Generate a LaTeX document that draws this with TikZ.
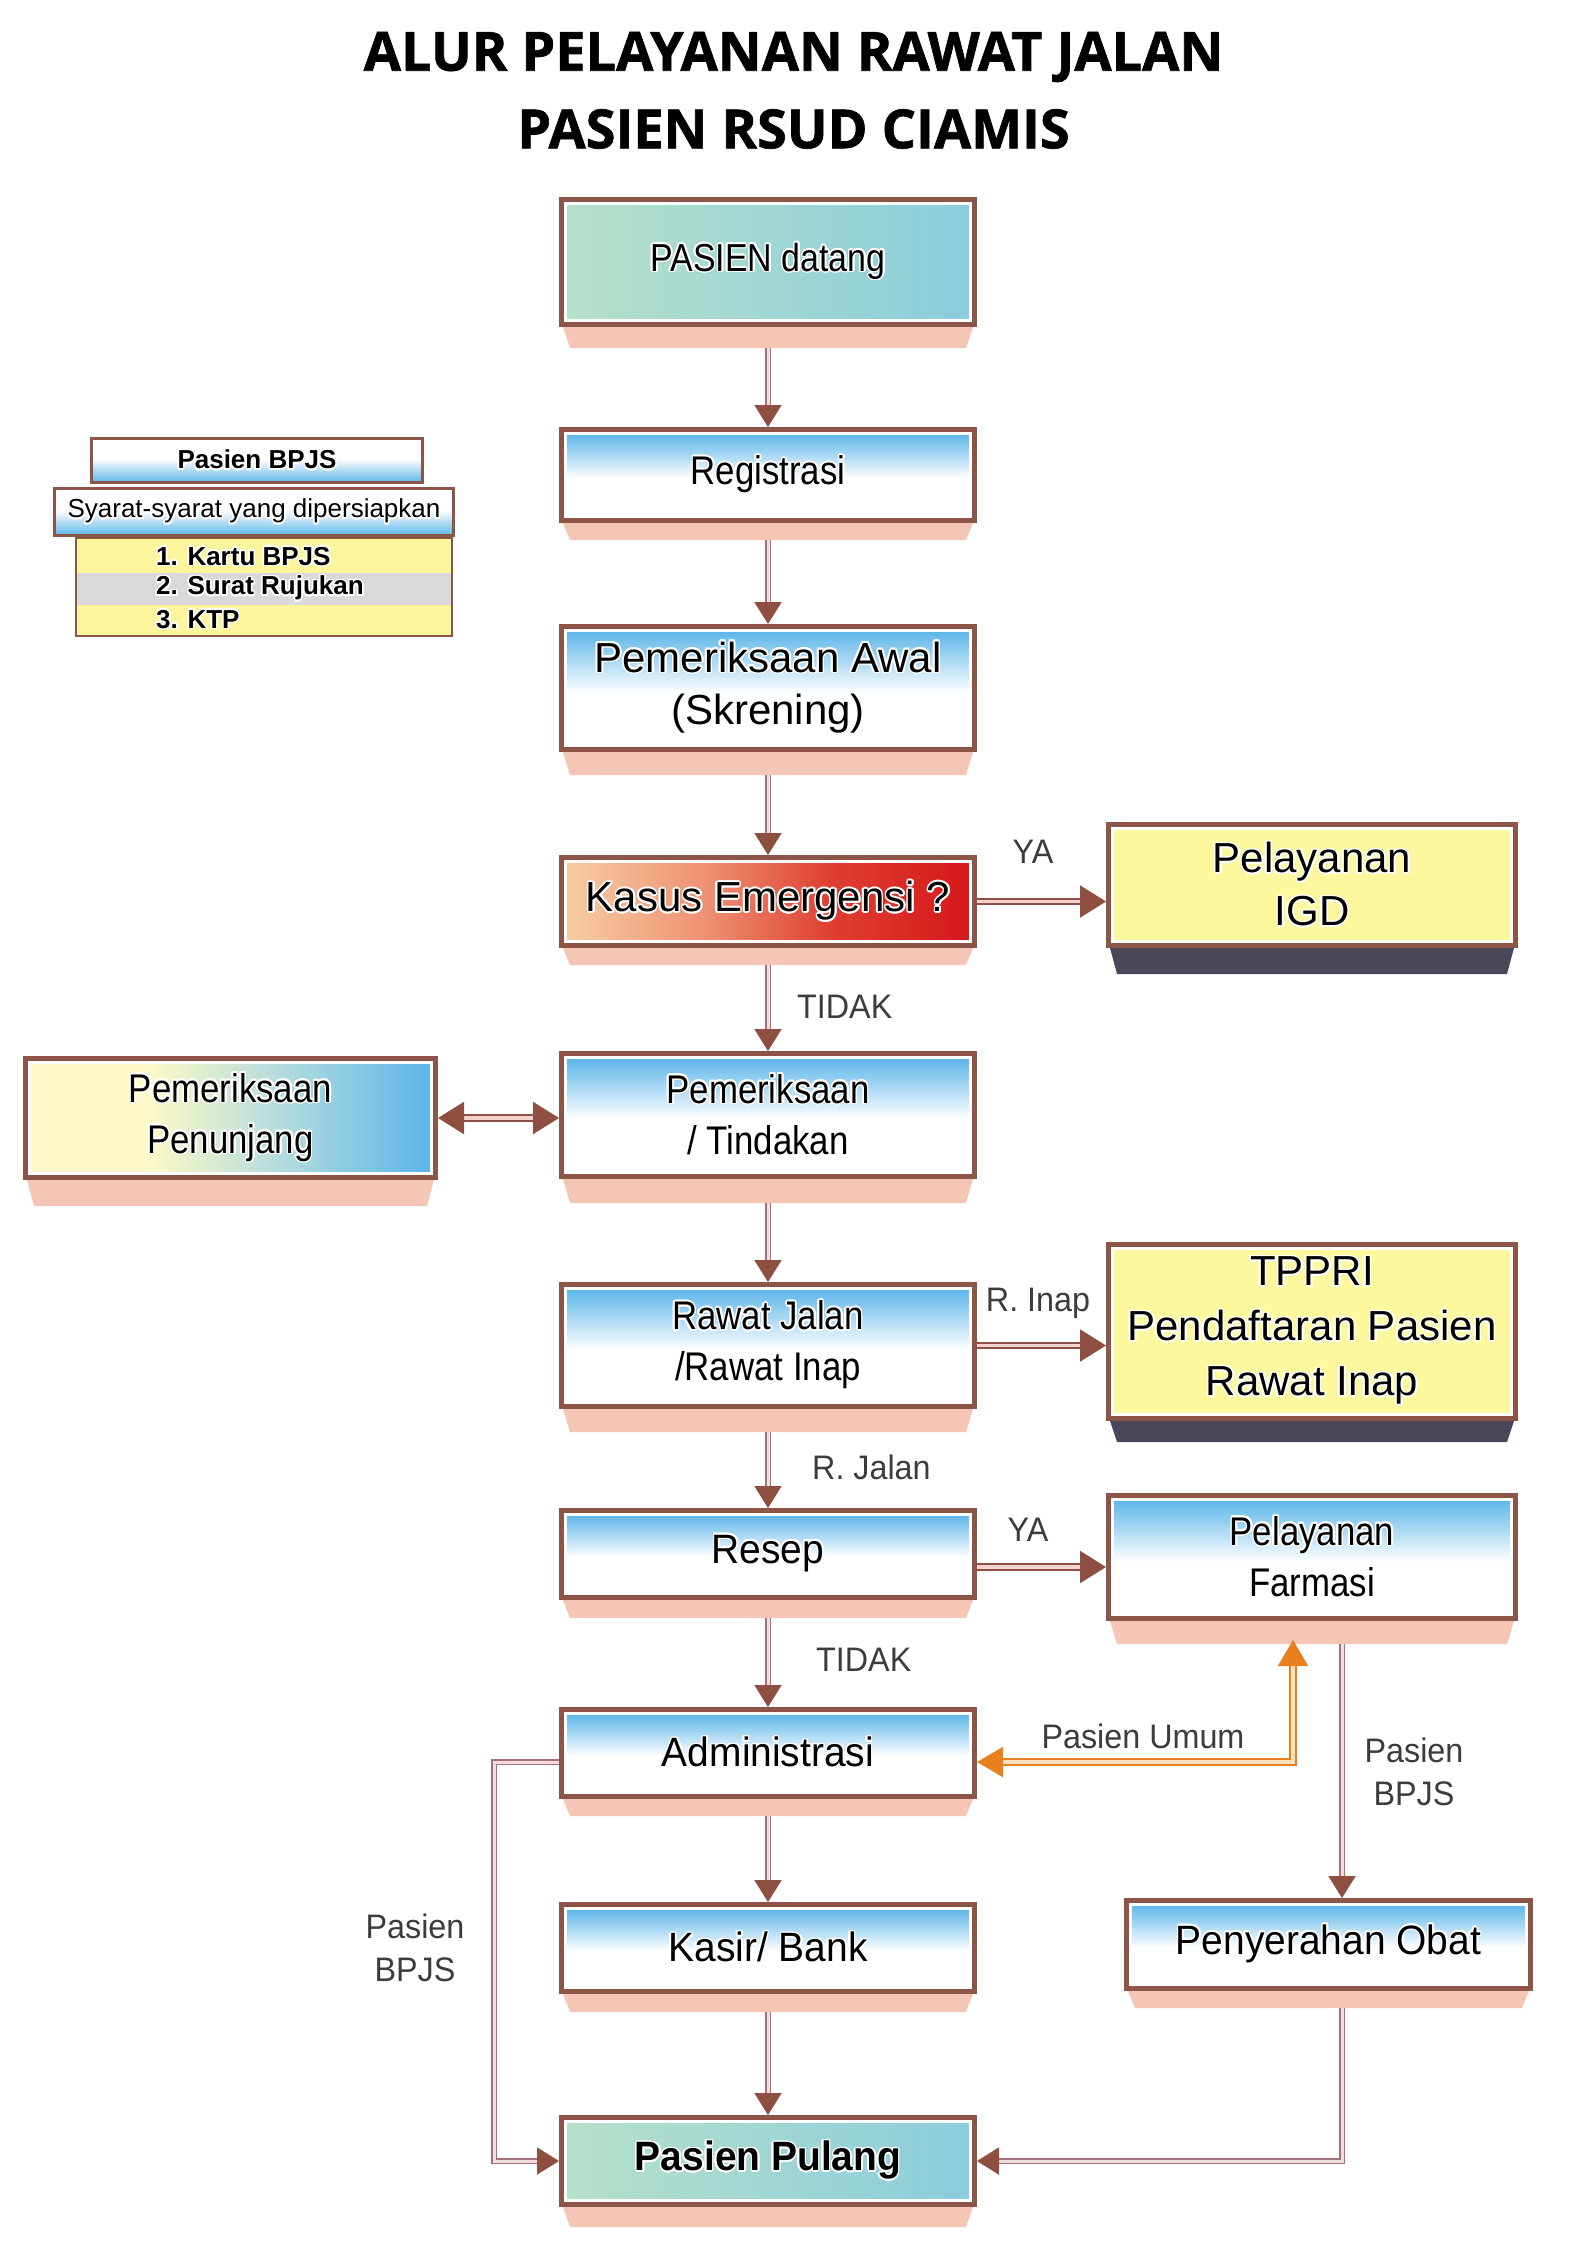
\documentclass[tikz,border=0pt]{standalone}
\usepackage{fontspec}
\usepackage[copies]{contour}
\contourlength{1.6pt}
\setmainfont{Liberation Sans}
\newfontfamily\fA[FakeStretch=0.87]{Liberation Sans}
\newfontfamily\fB[FakeStretch=0.95]{Liberation Sans}
\newfontfamily\fC[FakeStretch=1.0]{Liberation Sans}
\newfontfamily\titlefont[BoldFeatures={FakeBold=1.2}]{Open Sans}
\newcommand\hl[1]{\contour{white}{#1}}
\usetikzlibrary{arrows.meta,calc}
\definecolor{boxbrown}{HTML}{8C5548}
\definecolor{shadowpink}{HTML}{F5C6B6}
\definecolor{shadowdark}{HTML}{4A4858}
\definecolor{sky}{HTML}{5BB5E9}
\definecolor{mint}{HTML}{B6E0C9}
\definecolor{aqua}{HTML}{8BCDDD}
\definecolor{ylw}{HTML}{FDF89D}
\definecolor{peach}{HTML}{F7CDA2}
\definecolor{emidA}{HTML}{EE9274}
\definecolor{emidB}{HTML}{DF3E30}
\definecolor{redc}{HTML}{D5181B}
\definecolor{pyel}{HTML}{FDF9C8}
\definecolor{pmid}{HTML}{B4DCDD}
\definecolor{arrowbrown}{HTML}{8E4E40}
\definecolor{connedge}{HTML}{A5707A}
\definecolor{conninner}{HTML}{F3DCDC}
\definecolor{hedge}{HTML}{8E5048}
\definecolor{hinner}{HTML}{F5D2CC}
\definecolor{orng}{HTML}{E8801F}
\definecolor{oinner}{HTML}{FCE2BE}
\definecolor{labelgray}{HTML}{3C3C3C}
\definecolor{graybar}{HTML}{D9D9D9}
\definecolor{lgylw}{HTML}{FDF59B}
\pgfdeclareverticalshading{bluetop}{100bp}{color(0bp)=(white); color(25bp)=(white); color(48bp)=(white); color(75bp)=(sky); color(100bp)=(sky)}
\pgfdeclareverticalshading{bluebottom}{100bp}{color(0bp)=(sky); color(25bp)=(sky); color(52bp)=(white); color(75bp)=(white); color(100bp)=(white)}
\pgfdeclarehorizontalshading{emerg}{100bp}{color(0bp)=(peach); color(25bp)=(peach); color(42bp)=(emidA); color(58bp)=(emidB); color(75bp)=(redc); color(100bp)=(redc)}
\pgfdeclarehorizontalshading{penunj}{100bp}{color(0bp)=(pyel); color(25bp)=(pyel); color(40bp)=(pyel); color(56bp)=(pmid); color(75bp)=(sky); color(100bp)=(sky)}
\newcommand\boxshadow[3]{\fill[#2] ($(#1.south west)+(4,0)$) -- ($(#1.south east)+(-4,0)$) -- ($(#1.south east)+(-11,#3)$) -- ($(#1.south west)+(11,#3)$) -- cycle;}
\begin{document}
\begin{tikzpicture}[x=1pt,y=-1pt,
  flow/.style={rectangle, inner sep=0pt, outer sep=6.5pt, draw=white, line width=3pt,
    preaction={draw=boxbrown, line width=13pt}, text=black, align=center},
  mainw/.style={minimum width=405pt},
  sidew/.style={minimum width=399pt},
  blue/.style={shade, shading=bluetop},
  teal/.style={left color=mint, right color=aqua},
  fa/.style={font=\fA\fontsize{40}{51}\selectfont},
  fb/.style={font=\fB\fontsize{41}{51}\selectfont},
  fc/.style={font=\fC\fontsize{42}{52}\selectfont},
  lbl/.style={text=labelgray, font=\fB\fontsize{34}{43}\selectfont, inner sep=0pt, align=center},
  vconn/.style={draw=connedge, line width=1.9pt, double=conninner, double distance=3pt,
    -{Triangle[length=22pt,width=27pt,color=arrowbrown,fill=arrowbrown]}},
  hconn/.style={draw=hedge, line width=2pt, double=hinner, double distance=3.5pt,
    -{Triangle[length=26pt,width=32pt,color=arrowbrown,fill=arrowbrown]}},
  oconn/.style={draw=orng, line width=2pt, double=oinner, double distance=3.5pt,
    {Triangle[length=26pt,width=30pt,color=orng,fill=orng]}-{Triangle[length=26pt,width=30pt,color=orng,fill=orng]}},
  lgtext/.style={font=\fontsize{26}{30}\selectfont, inner sep=0pt}
]
\useasboundingbox (0,0) rectangle (1587,2245);
\fill[white] (0,0) rectangle (1587,2245);

% title
\node[font=\titlefont\bfseries\fontsize{54}{60}\selectfont] (t1) at (793.5,57) {ALUR PELAYANAN RAWAT JALAN};
\node[font=\titlefont\bfseries\fontsize{54}{60}\selectfont] (t2) at (793.5,129) {PASIEN RSUD CIAMIS};

% legend
\node[draw=boxbrown, line width=2pt, fill=lgylw, minimum width=376pt, minimum height=98pt, inner sep=0pt] (lgl) at (263.5,587) {};
\fill[graybar] ($(lgl.north west)+(2,36)$) rectangle ($(lgl.north east)+(-2,67.5)$);
\node[draw=boxbrown, line width=3pt, shade, shading=bluebottom, minimum width=331pt, minimum height=44pt, inner sep=0pt, font=\bfseries\fontsize{26}{30}\selectfont] (lg1) at (257,460.5) {\hl{Pasien BPJS}};
\node[draw=boxbrown, line width=3pt, shade, shading=bluebottom, minimum width=399pt, minimum height=47pt, inner sep=0pt, lgtext] (lg2) at (254,512) {\hl{Syarat-syarat yang dipersiapkan}};
\node[lgtext, font=\bfseries\fontsize{26}{30}\selectfont, anchor=west] (li1) at (156,557) {\hl{1. Kartu BPJS}};
\node[lgtext, font=\bfseries\fontsize{26}{30}\selectfont, anchor=west] (li2) at (156,589) {\hl{2. Surat Rujukan}};
\node[lgtext, font=\bfseries\fontsize{26}{30}\selectfont, anchor=west] (li3) at (156,620) {\hl{3. KTP}};

% main column
\node[flow, mainw, teal, minimum height=117pt, font=\fA\fontsize{39}{50}\selectfont] (pd) at (768,262) {\hl{PASIEN datang}};
\node[flow, mainw, blue, minimum height=83pt, fa] (reg) at (768,475) {\hl{Registrasi}};
\node[flow, mainw, blue, minimum height=115pt, fc] (awal) at (768,688) {\hl{Pemeriksaan Awal}\\\hl{(Skrening)}};
\node[flow, mainw, shade, shading=emerg, minimum height=80pt, fc] (kasus) at (768,901.5) {\hl{Kasus Emergensi ?}};
\node[flow, mainw, blue, minimum height=115pt, fa] (tind) at (768,1115) {\hl{Pemeriksaan}\\\hl{/ Tindakan}};
\node[flow, mainw, blue, minimum height=114pt, fa] (rawat) at (768,1345.5) {\hl{Rawat Jalan}\\\hl{/Rawat Inap}};
\node[flow, mainw, blue, minimum height=79pt, fb] (resep) at (768,1554) {\hl{Resep}};
\node[flow, mainw, blue, minimum height=79pt, fb] (admin) at (768,1753) {\hl{Administrasi}};
\node[flow, mainw, blue, minimum height=79pt, fb] (kasir) at (768,1948) {\hl{Kasir/ Bank}};
\node[flow, mainw, teal, minimum height=79pt, font=\fB\bfseries\fontsize{41}{51}\selectfont] (pulang) at (768,2161) {\hl{Pasien Pulang}};

% side boxes
\node[flow, sidew, fill=ylw, minimum height=113pt, font=\fC\fontsize{42}{53}\selectfont] (igd) at (1312,885) {\hl{Pelayanan}\\\hl{IGD}};
\node[flow, sidew, fill=ylw, minimum height=166pt, font=\fC\fontsize{42}{55}\selectfont] (tppri) at (1312,1331.5) {\hl{TPPRI}\\\hl{Pendaftaran Pasien}\\\hl{Rawat Inap}};
\node[flow, sidew, blue, minimum height=115pt, fa] (farm) at (1312,1557) {\hl{Pelayanan}\\\hl{Farmasi}};
\node[flow, minimum width=396pt, blue, minimum height=80pt, fb] (pobat) at (1328.5,1944.5) {\hl{Penyerahan Obat}};
\node[flow, minimum width=402pt, shade, shading=penunj, minimum height=111pt, fa] (penunj) at (230.5,1118) {\hl{Pemeriksaan}\\\hl{Penunjang}};

% shadows
\boxshadow{pd}{shadowpink}{21}
\boxshadow{reg}{shadowpink}{17}
\boxshadow{awal}{shadowpink}{23}
\boxshadow{kasus}{shadowpink}{17}
\boxshadow{tind}{shadowpink}{24}
\boxshadow{rawat}{shadowpink}{23}
\boxshadow{resep}{shadowpink}{18}
\boxshadow{admin}{shadowpink}{17}
\boxshadow{kasir}{shadowpink}{18}
\boxshadow{pulang}{shadowpink}{20}
\boxshadow{farm}{shadowpink}{23}
\boxshadow{pobat}{shadowpink}{17}
\boxshadow{penunj}{shadowpink}{26}
\boxshadow{igd}{shadowdark}{26}
\boxshadow{tppri}{shadowdark}{21}

% helper coordinates
\coordinate (farmout) at ($(farm.south)+(30,23)$);
\coordinate (farmin) at ($(farm.south)+(-19,19)$);
\coordinate (adminE) at ($(admin.east)+(0,9)$);
\coordinate (adminW) at ($(admin.west)+(0,9)$);
\coordinate (adminWL) at ($(admin.west)+(-65,9)$);
\coordinate (resepE) at ($(resep.east)+(0,13)$);
\coordinate (pobatout) at ($(pobat.south)+(13.5,17)$);

% vertical connectors
\draw[vconn] ($(pd.south)+(0,21)$) -- (reg.north);
\draw[vconn] ($(reg.south)+(0,17)$) -- (awal.north);
\draw[vconn] ($(awal.south)+(0,23)$) -- (kasus.north);
\draw[vconn] ($(kasus.south)+(0,17)$) -- (tind.north);
\draw[vconn] ($(tind.south)+(0,24)$) -- (rawat.north);
\draw[vconn] ($(rawat.south)+(0,23)$) -- (resep.north);
\draw[vconn] ($(resep.south)+(0,18)$) -- (admin.north);
\draw[vconn] ($(admin.south)+(0,17)$) -- (kasir.north);
\draw[vconn] ($(kasir.south)+(0,18)$) -- (pulang.north);
\draw[vconn] (farmout) -- (farmout |- pobat.north);
\draw[vconn] (adminW) -- (adminWL) |- (pulang.west);
\draw[vconn] (pobatout) |- (pulang.east);

% horizontal connectors
\draw[hconn] (kasus.east) -- (kasus.east -| igd.west);
\draw[hconn, {Triangle[length=26pt,width=32pt,color=arrowbrown,fill=arrowbrown]}-{Triangle[length=26pt,width=32pt,color=arrowbrown,fill=arrowbrown]}] (penunj.east) -- (penunj.east -| tind.west);
\draw[hconn] (rawat.east) -- (rawat.east -| tppri.west);
\draw[hconn] (resepE) -- (resepE -| farm.west);
\draw[oconn] (adminE) -| (farmin);

% labels
\node[lbl] (lya1) at (1033,852) {YA};
\node[lbl, anchor=west] (ltd1) at (797,1007) {TIDAK};
\node[lbl] (linap) at (1038,1303) {R. Inap};
\node[lbl, anchor=west] (ljln) at (812,1467) {R. Jalan};
\node[lbl] (lya2) at (1028,1530) {YA};
\node[lbl, anchor=west] (ltd2) at (816,1660) {TIDAK};
\node[lbl] (lumum) at (1143,1736) {Pasien Umum};
\node[lbl] (lbpjs1) at (1414,1772) {Pasien\\BPJS};
\node[lbl] (lbpjs2) at (415,1948) {Pasien\\BPJS};
\end{tikzpicture}
\end{document}
